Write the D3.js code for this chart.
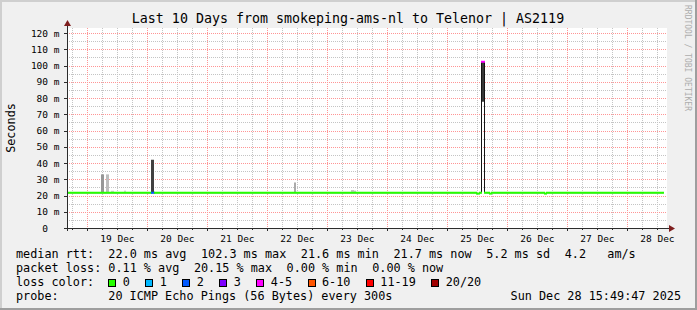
<!DOCTYPE html>
<html>
<head>
<meta charset="utf-8">
<script src="https://cdn.jsdelivr.net/npm/d3@7"></script>
<style>
  body { margin: 0; background: #f0f0f0; }
  svg { display: block; font-family: "DejaVu Sans Mono", monospace; }
</style>
</head>
<body>
<div id="container"></div>
<script>
const parse = d3.timeParse('%Y-%m-%d %H:%M:%S')

const title = 'Last 10 Days from smokeping-ams-nl to Telenor | AS2119'
const rangeStart = '2025-12-18 15:49:47'
const rangeEnd = '2025-12-28 15:49:47'

// median rtt (ms), step series: each value holds until the next time
const medianTimes = [
  '2025-12-18 15:49:47', '2025-12-20 01:35:00', '2025-12-20 02:35:00',
  '2025-12-25 11:35:00', '2025-12-25 12:35:00', '2025-12-25 13:35:00',
  '2025-12-25 14:35:00', '2025-12-25 16:35:00', '2025-12-25 17:35:00',
  '2025-12-26 14:35:00', '2025-12-26 15:35:00'
]
const medianValues = [21.7, 21.7, 21.7, 21.2, 21.7, 102.3, 21.7, 21.2, 21.7, 21.2, 21.7]
const medianLoss = [0, 2, 0, 0, 0, 4, 0, 0, 0, 0, 0]
const medianEnd = '2025-12-28 14:20:00'

// smoke: one hour per entry
const smokeTimes = [
  '2025-12-19 05:35:00', '2025-12-19 07:35:00', '2025-12-19 09:35:00',
  '2025-12-19 14:35:00', '2025-12-20 01:35:00', '2025-12-22 10:35:00',
  '2025-12-23 09:35:00', '2025-12-23 10:35:00', '2025-12-25 13:35:00'
]
const smokeLow = [22, 22, 21.7, 21.7, 21.7, 21.7, 21.7, 21.7, 77.7]
const smokeHigh = [33, 33, 22.9, 23, 42, 28, 23.4, 23, 102.3]
const smokeDensity = [0.45, 0.25, 0.15, 0.15, 0.9, 0.35, 0.2, 0.2, 0.95]

const yTickValues = [0, 10, 20, 30, 40, 50, 60, 70, 80, 90, 100, 110, 120]
const yTickLabels = ['0  ', '10 m', '20 m', '30 m', '40 m', '50 m', '60 m', '70 m', '80 m', '90 m', '100 m', '110 m', '120 m']
const dayLabels = ['19 Dec', '20 Dec', '21 Dec', '22 Dec', '23 Dec', '24 Dec', '25 Dec', '26 Dec', '27 Dec', '28 Dec']

const lossLabels = ['0', '1', '2', '3', '4-5', '6-10', '11-19', '20/20']
const lossColors = ['#26ff00', '#00b8ff', '#0059ff', '#7e00ff', '#ff00ff', '#ff5500', '#ff0000', '#a10000']

const rttItems = ['median rtt:  22.0 ms avg', '102.3 ms max', '21.6 ms min', '21.7 ms now', '5.2 ms sd', '4.2   am/s']
const lossItems = ['packet loss: 0.11 % avg', '20.15 % max', '0.00 % min', '0.00 % now']
const probeText = '20 ICMP Echo Pings (56 Bytes) every 300s'
const stampText = 'Sun Dec 28 15:49:47 2025'

function lossClass(n) {
  if (n <= 3) return n
  if (n <= 5) return 4
  if (n <= 10) return 5
  if (n <= 19) return 6
  return 7
}

const W = 697
const H = 310
const plotLeft = 67, plotRight = 667, plotTop = 28, plotBottom = 228
const charW = 7.1
const legendGap = 14.6

let svg = d3.select('#container')
  .append('svg')
  .attr('xmlns', 'http://www.w3.org/2000/svg')
  .attr('width', W)
  .attr('height', H)

// background + shaded frame
svg.append('rect').attr('width', W).attr('height', H).attr('fill', '#f0f0f0')
svg.append('path').attr('d', `M0,0H${W}V2H2V${H}H0Z`).attr('fill', '#cfcfcf')
svg.append('path').attr('d', `M${W},${H}H0V${H - 2}H${W - 2}V0H${W}Z`).attr('fill', '#9e9e9e')

svg.append('rect')
  .attr('x', plotLeft).attr('y', plotTop)
  .attr('width', plotRight - plotLeft).attr('height', plotBottom - plotTop)
  .attr('fill', '#fff')

let t0 = parse(rangeStart)
let t1 = parse(rangeEnd)
let x = d3.scaleTime().domain([t0, t1]).range([plotLeft, plotRight])
let y = d3.scaleLinear().domain([0, 123.08]).range([plotBottom, plotTop])
// snap to device pixels so 1px lines stay sharp
let px = t => Math.round(x(t)) + 0.5

// grid
let grid = svg.append('g').attr('fill', 'none').attr('stroke-width', 1).attr('stroke-dasharray', '1,1')
let days = d3.timeDay.range(t0, t1)
let sixHours = d3.timeHour.every(6).range(t0, t1).filter(d => d.getHours() !== 0)

grid.selectAll('.vminor').data(sixHours).enter().append('line')
  .attr('x1', px).attr('x2', px)
  .attr('y1', plotTop).attr('y2', plotBottom)
  .attr('stroke', '#c4c4c4')
grid.selectAll('.hminor').data(d3.range(5, 125, 10)).enter().append('line')
  .attr('x1', plotLeft).attr('x2', plotRight)
  .attr('y1', d => Math.round(y(d)) + 0.5).attr('y2', d => Math.round(y(d)) + 0.5)
  .attr('stroke', '#c4c4c4')
grid.selectAll('.vmajor').data(days).enter().append('line')
  .attr('x1', px).attr('x2', px)
  .attr('y1', plotTop).attr('y2', plotBottom)
  .attr('stroke', '#ff9595')
grid.selectAll('.hmajor').data(yTickValues.slice(1)).enter().append('line')
  .attr('x1', plotLeft).attr('x2', plotRight)
  .attr('y1', d => Math.round(y(d)) + 0.5).attr('y2', d => Math.round(y(d)) + 0.5)
  .attr('stroke', '#ff9595')

// smoke
let shade = d3.scaleLinear().domain([0, 1]).range(['#ececec', '#2e2e2e'])
svg.append('g').selectAll('rect')
  .data(smokeTimes.map((t, i) => ({ t: parse(t), lo: smokeLow[i], hi: smokeHigh[i], dens: smokeDensity[i] })))
  .enter().append('rect')
  .attr('x', d => Math.round(x(d.t)))
  .attr('width', d => Math.round(x(d3.timeHour.offset(d.t, 1))) - Math.round(x(d.t)))
  .attr('y', d => y(d.hi))
  .attr('height', d => y(d.lo) - y(d.hi))
  .attr('fill', d => shade(d.dens))

// median: thin dark connecting line, then loss-coloured segments
let pts = medianTimes.map((t, i) => ({ t: parse(t), v: medianValues[i], loss: medianLoss[i] }))
let ends = pts.map((d, i) => i < pts.length - 1 ? pts[i + 1].t : parse(medianEnd))
let stepLine = d3.line().x(d => px(d.t)).y(d => y(d.v)).curve(d3.curveStepAfter)
svg.append('path')
  .attr('d', stepLine(pts.concat([{ t: parse(medianEnd), v: pts[pts.length - 1].v }])))
  .attr('fill', 'none')
  .attr('stroke', '#141414')
  .attr('stroke-width', 1)

svg.append('g').selectAll('line')
  .data(pts).enter().append('line')
  .attr('x1', d => px(d.t) - 0.5)
  .attr('x2', (d, i) => px(ends[i]) + 0.5)
  .attr('y1', d => y(d.v))
  .attr('y2', d => y(d.v))
  .attr('stroke', d => lossColors[lossClass(d.loss)])
  .attr('stroke-width', 2)

// axes
let axis = svg.append('g').attr('stroke', '#2c2c2c').attr('stroke-width', 1)
axis.append('line').attr('x1', plotLeft + 0.5).attr('x2', plotLeft + 0.5).attr('y1', plotBottom + 3).attr('y2', plotTop - 3)
axis.append('line').attr('x1', plotLeft - 3).attr('x2', plotRight + 3).attr('y1', plotBottom + 0.5).attr('y2', plotBottom + 0.5)
axis.selectAll('.ytick').data(yTickValues).enter().append('line')
  .attr('x1', plotLeft - 3).attr('x2', plotLeft)
  .attr('y1', d => Math.round(y(d)) + 0.5).attr('y2', d => Math.round(y(d)) + 0.5)
axis.selectAll('.xtick').data(sixHours).enter().append('line')
  .attr('x1', px).attr('x2', px)
  .attr('y1', plotBottom).attr('y2', plotBottom + 2)
axis.selectAll('.xmtick').data(days).enter().append('line')
  .attr('x1', px).attr('x2', px)
  .attr('y1', plotBottom).attr('y2', plotBottom + 3)

svg.append('path')
  .attr('d', `M${plotLeft - 3},${plotTop - 2}L${plotLeft + 0.5},${plotTop - 8}L${plotLeft + 4},${plotTop - 2}Z`)
  .attr('fill', '#7f1f1f')
svg.append('path')
  .attr('d', `M${plotRight + 2},${plotBottom - 3}L${plotRight + 8},${plotBottom + 0.5}L${plotRight + 2},${plotBottom + 4}Z`)
  .attr('fill', '#7f1f1f')

// tick labels
svg.append('g').selectAll('text')
  .data(yTickValues).enter().append('text')
  .attr('xml:space', 'preserve')
  .attr('x', 59.5)
  .attr('y', d => y(d) + 3.5)
  .attr('text-anchor', 'end')
  .attr('font-size', '9.5px')
  .attr('fill', '#000')
  .text((d, i) => yTickLabels[i])

svg.append('g').selectAll('text')
  .data(days).enter().append('text')
  .attr('x', d => x(d3.timeHour.offset(d, 12)))
  .attr('y', 242)
  .attr('text-anchor', 'middle')
  .attr('font-size', '9.5px')
  .attr('fill', '#000')
  .text((d, i) => dayLabels[i])

// titles
svg.append('text')
  .attr('x', 348).attr('y', 23)
  .attr('text-anchor', 'middle')
  .attr('font-size', '13.3px')
  .text(title)

svg.append('text')
  .attr('transform', 'translate(15,128) rotate(-90)')
  .attr('text-anchor', 'middle')
  .attr('font-size', '11.8px')
  .text('Seconds')

svg.append('text')
  .attr('transform', 'translate(685,5) rotate(90)')
  .attr('font-size', '8px')
  .attr('fill', '#adadad')
  .text('RRDTOOL / TOBI OETIKER')

// legend: rrdtool places each item after the previous one with a fixed gap
let legend = svg.append('g').attr('font-size', '11.8px').attr('fill', '#000')
function legendRow(items, yPos) {
  let lx = 16
  items.forEach(s => {
    legend.append('text').attr('xml:space', 'preserve').attr('x', lx).attr('y', yPos).text(s)
    lx += s.length * charW + legendGap
  })
}
legendRow(rttItems, 258)
legendRow(lossItems, 272)
legend.append('text').attr('x', 16).attr('y', 286).text('loss color:')
legend.append('text').attr('x', 16).attr('y', 300).text('probe:')
legend.append('text').attr('x', 16 + 13 * charW).attr('y', 300).text(probeText)
legend.append('text').attr('x', 681).attr('y', 300).attr('text-anchor', 'end').text(stampText)

let bx = 108.3
lossLabels.forEach((lab, i) => {
  legend.append('rect')
    .attr('x', Math.round(bx) + 0.5).attr('y', 279.5)
    .attr('width', 7).attr('height', 7)
    .attr('fill', lossColors[i])
    .attr('stroke', '#000')
  legend.append('text').attr('x', bx + 14.5).attr('y', 286).text(lab)
  bx += 29.9 + lab.length * charW
})
</script>
</body>
</html>
